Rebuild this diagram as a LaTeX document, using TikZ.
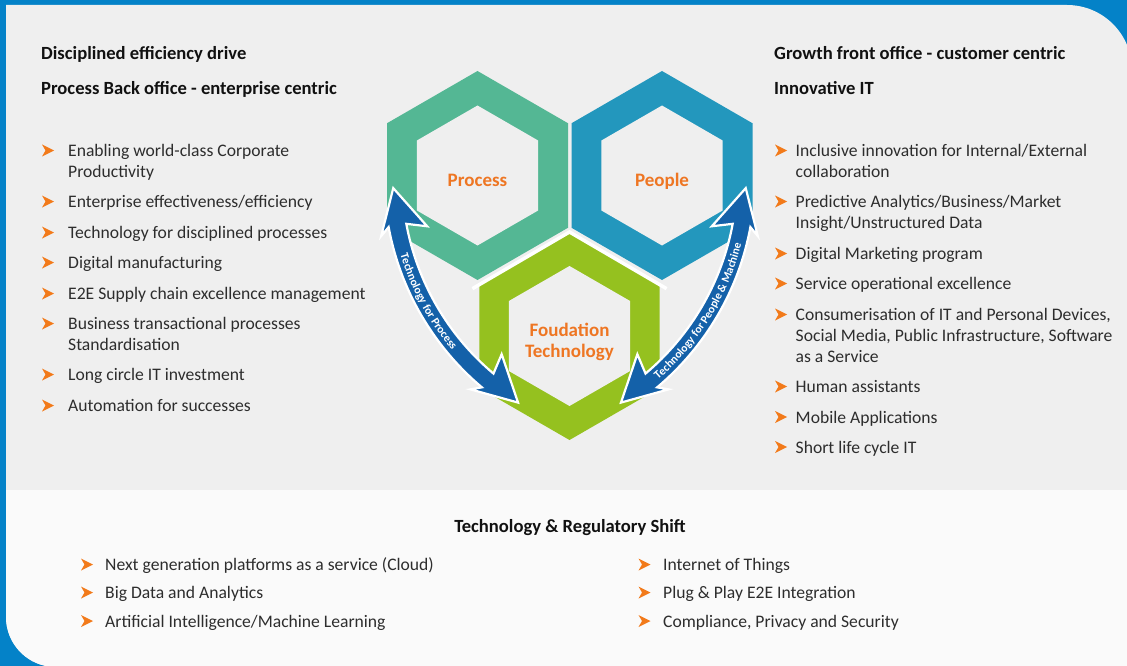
\documentclass[tikz,border=0pt]{standalone}
\usepackage{fontspec}
\setmainfont{Carlito}
\usetikzlibrary{decorations.text}
\definecolor{frameblue}{RGB}{4,130,200}
\definecolor{panelgray}{RGB}{239,239,239}
\definecolor{bottomgray}{RGB}{250,250,250}
\definecolor{processc}{RGB}{84,183,148}
\definecolor{peoplec}{RGB}{35,151,189}
\definecolor{foundc}{RGB}{149,193,31}
\definecolor{arrowc}{RGB}{20,97,169}
\definecolor{orangec}{RGB}{238,118,35}
\definecolor{bulc}{RGB}{242,122,26}
\definecolor{textc}{RGB}{45,45,45}
\definecolor{headc}{RGB}{17,17,17}
\newcommand\hexpath[2]{(#1) +(30:#2) -- +(90:#2) -- +(150:#2) -- +(210:#2) -- +(270:#2) -- +(330:#2) -- cycle}
\newcommand\arrowfont{\fontsize{11.5}{11.5}\selectfont\bfseries}
\tikzset{
  item/.style={font=\fontsize{17.6}{21}\selectfont, text=textc, inner sep=0pt, anchor=base west},
  head/.style={font=\fontsize{18.6}{20}\selectfont\bfseries, text=headc, inner sep=0pt, anchor=base west},
  hexlab/.style={font=\fontsize{19}{21}\selectfont\bfseries, text=orangec, inner sep=0pt, anchor=base},
  bigarrow/.style={fill=arrowc, draw=white, line width=2.2pt, line join=miter},
  arrowtext/.style={decorate, decoration={text along path, text align=center, text color=white}}
}
\newcommand\bul[5]{%
  \fill[bulc] (#2,#4-12) -- (#2+12,#4-6) -- (#2,#4) -- (#2+3.5,#4-6) -- cycle;
  \node[item] (#1) at (#3,#4) {#5};}
\newcommand\cont[4]{\node[item] (#1) at (#2,#3) {#4};}
\begin{document}
\begin{tikzpicture}[x=1pt,y=-1pt]
\useasboundingbox (0,0) rectangle (1127,666);
% frame and panels
\fill[frameblue] (0,0) rectangle (1127,666);
\fill[panelgray] (6,5) -- (1067,5) arc[start angle=270, end angle=360, radius=65]
  -- (1132,667) -- (56,667) arc[start angle=90, end angle=180, radius=50] -- cycle;
\fill[bottomgray] (6,490) -- (1132,490) -- (1132,667) -- (56,667)
  arc[start angle=90, end angle=180, radius=50] -- cycle;
% hexagons
\coordinate (hp) at (477.5,175.5);
\coordinate (hq) at (662,175.5);
\coordinate (hf) at (569.5,336);
\fill[processc] \hexpath{hp}{104.5};
\fill[panelgray] \hexpath{hp}{70};
\fill[peoplec] \hexpath{hq}{104.5};
\fill[panelgray] \hexpath{hq}{70};
\fill[foundc] \hexpath{hf}{104};
\fill[panelgray] \hexpath{hf}{70};
\draw[white, line width=3.5pt, line join=miter] (hf) +(206:108) -- +(270:104) -- +(334:108);
\node[hexlab] (lproc) at (477.5,186.5) {Process};
\node[hexlab] (lpeop) at (662,186.5) {People};
\node[hexlab] (lfou1) at (569.5,336.5) {Foudation};
\node[hexlab] (lfou2) at (569.5,357) {Technology};
% left curved arrow
\begin{scope}[shift={(659,177)}]
\filldraw[bigarrow] (177.6:266) -- (168:284) -- (169.5:275)
  arc[start angle=169.5, end angle=130.1, radius=275] -- (131.6:284) -- (122:266)
  -- (131.6:237) -- (130.1:257) arc[start angle=130.1, end angle=169.5, radius=257]
  -- (168:237) -- cycle;
\path[arrowtext, decoration={text={|\arrowfont|Technology for Process}}]
  (173:270) arc[start angle=173, end angle=130.4, radius=270];
\end{scope}
% right curved arrow
\begin{scope}[shift={(480,177)}]
\filldraw[bigarrow] (2.4:266) -- (12:284) -- (10.5:275)
  arc[start angle=10.5, end angle=49.9, radius=275] -- (48.4:284) -- (58:266)
  -- (48.4:237) -- (49.9:257) arc[start angle=49.9, end angle=10.5, radius=257]
  -- (12:237) -- cycle;
\path[arrowtext, decoration={text={|\arrowfont|Technology for People {\&} Machine}}]
  (54:270) arc[start angle=54, end angle=9.2, radius=270];
\end{scope}
% left column
\node[head] (lh1) at (41,60) {Disciplined efficiency drive};
\node[head] (lh2) at (41,95) {Process Back office - enterprise centric};
\bul{l1}{42}{68}{156.5}{Enabling world-class Corporate}
\cont{l1b}{68}{177.5}{Productivity}
\bul{l2}{42}{68}{207.5}{Enterprise effectiveness/efficiency}
\bul{l3}{42}{68}{238.5}{Technology for disciplined processes}
\bul{l4}{42}{68}{268.5}{Digital manufacturing}
\bul{l5}{42}{68}{299.5}{E2E Supply chain excellence management}
\bul{l6}{42}{68}{329.5}{Business transactional processes}
\cont{l6b}{68}{350.5}{Standardisation}
\bul{l7}{42}{68}{380.5}{Long circle IT investment}
\bul{l8}{42}{68}{411.5}{Automation for successes}
% right column
\node[head] (rh1) at (774,60) {Growth front office - customer centric};
\node[head] (rh2) at (774,95) {Innovative IT};
\bul{r1}{775}{795.5}{156.5}{Inclusive innovation for Internal/External}
\cont{r1b}{795.5}{177.5}{collaboration}
\bul{r2}{775}{795.5}{207.5}{Predictive Analytics/Business/Market}
\cont{r2b}{795.5}{228.5}{Insight/Unstructured Data}
\bul{r3}{775}{795.5}{259.5}{Digital Marketing program}
\bul{r4}{775}{795.5}{289.5}{Service operational excellence}
\bul{r5}{775}{795.5}{320.5}{Consumerisation of IT and Personal Devices,}
\cont{r5b}{795.5}{341.5}{Social Media, Public Infrastructure, Software}
\cont{r5c}{795.5}{362.5}{as a Service}
\bul{r6}{775}{795.5}{392.5}{Human assistants}
\bul{r7}{775}{795.5}{423}{Mobile Applications}
\bul{r8}{775}{795.5}{453}{Short life cycle IT}
% bottom
\node[head, anchor=base] (bh) at (570,532) {Technology \& Regulatory Shift};
\bul{b1}{81}{105}{570.5}{Next generation platforms as a service (Cloud)}
\bul{b2}{81}{105}{598.5}{Big Data and Analytics}
\bul{b3}{81}{105}{627}{Artificial Intelligence/Machine Learning}
\bul{b4}{638.5}{663}{570.5}{Internet of Things}
\bul{b5}{638.5}{663}{598.5}{Plug \& Play E2E Integration}
\bul{b6}{638.5}{663}{627}{Compliance, Privacy and Security}
\end{tikzpicture}
\end{document}
